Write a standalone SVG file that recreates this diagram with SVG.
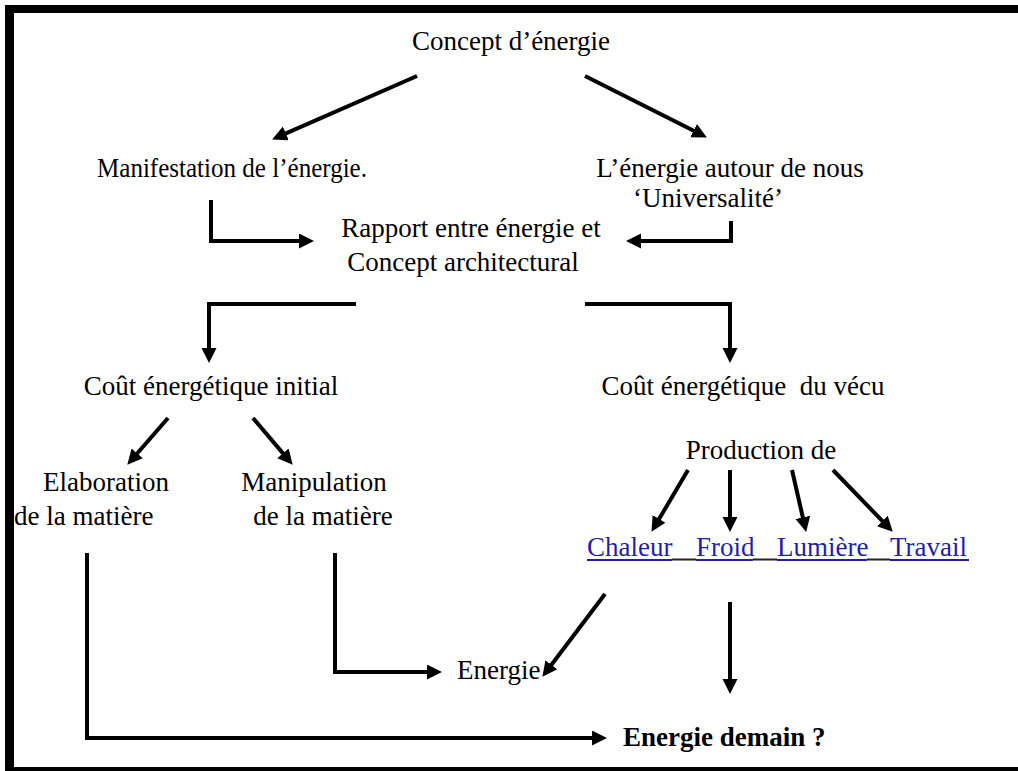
<svg xmlns="http://www.w3.org/2000/svg" width="1018" height="771" viewBox="0 0 1018 771">
<style>
.t{font-family:"Liberation Serif","Times New Roman",serif;font-size:27px;fill:#000}
.c{text-anchor:middle}
.b{font-weight:bold}
.lnk{fill:#1f1fa8}
.ln{fill:none;stroke:#000;stroke-width:4}
</style>
<defs>
<marker id="ah" markerUnits="userSpaceOnUse" markerWidth="17" markerHeight="17" refX="3" refY="7.5" orient="auto">
<path d="M0,0 L15,7.5 L0,15 Z" fill="#000"/>
</marker>
</defs>
<rect width="1018" height="771" fill="#fff"/>
<g id="border" fill="#000">
<rect x="5" y="5" width="1013" height="8"/>
<rect x="5" y="5" width="9" height="766"/>
<rect x="5" y="767" width="1013" height="4"/>
</g>
<g id="n-concept"><text class="t c" x="511" y="50">Concept d’énergie</text></g>
<g id="n-manif"><text class="t" x="97" y="177" textLength="270" lengthAdjust="spacingAndGlyphs">Manifestation de l’énergie.</text></g>
<g id="n-autour"><text class="t c" x="730" y="177">L’énergie autour de nous</text><text class="t c" x="708" y="207">‘Universalité’</text></g>
<g id="n-rapport"><text class="t c" x="471" y="237">Rapport entre énergie et</text><text class="t c" x="463" y="271">Concept architectural</text></g>
<g id="n-initial"><text class="t c" x="211" y="395">Coût énergétique initial</text></g>
<g id="n-vecu"><text class="t c" x="743" y="395" xml:space="preserve">Coût énergétique  du vécu</text></g>
<g id="n-elab"><text class="t c" x="106" y="491">Elaboration</text><text class="t" x="14" y="525">de la matière</text></g>
<g id="n-manip"><text class="t c" x="314" y="491">Manipulation</text><text class="t c" x="323" y="525">de la matière</text></g>
<g id="n-prod"><text class="t c" x="761" y="459">Production de</text></g>
<g id="n-types">
<text class="t lnk" x="587" y="556">Chaleur</text>
<text class="t lnk" x="696" y="556">Froid</text>
<text class="t lnk" x="777" y="556">Lumière</text>
<text class="t lnk" x="890" y="556">Travail</text>
<path d="M587,560 H672 M696,560 H753 M777,560 H867 M890,560 H969" stroke="#1f1fa8" stroke-width="1.8" fill="none"/>
<path d="M672,559.5 H696 M753,559.5 H777 M867,559.5 H890" stroke="#222" stroke-width="1.8" fill="none"/>
</g>
<g id="n-energie"><text class="t" x="457" y="679">Energie</text></g>
<g id="n-demain"><text class="t b" x="623" y="746">Energie demain ?</text></g>
<g id="connectors">
<path class="ln" marker-end="url(#ah)" d="M417,76 L283.1,134.6"/>
<path class="ln" marker-end="url(#ah)" d="M585,76 L696.2,132"/>
<path class="ln" marker-end="url(#ah)" d="M211,200 V241 H302"/>
<path class="ln" marker-end="url(#ah)" d="M731,221 V241 H638"/>
<path class="ln" marker-end="url(#ah)" d="M356,304 H209 V351"/>
<path class="ln" marker-end="url(#ah)" d="M585,304 H730 V351"/>
<path class="ln" marker-end="url(#ah)" d="M168,418 L135.2,455.7"/>
<path class="ln" marker-end="url(#ah)" d="M253,418 L284.9,455.6"/>
<path class="ln" marker-end="url(#ah)" d="M688,470 L657.6,521.5"/>
<path class="ln" marker-end="url(#ah)" d="M730,470 V520"/>
<path class="ln" marker-end="url(#ah)" d="M792,470 L803.5,520.3"/>
<path class="ln" marker-end="url(#ah)" d="M833,470 L884.4,523.1"/>
<path class="ln" marker-end="url(#ah)" d="M335,553 V672 H430"/>
<path class="ln" marker-end="url(#ah)" d="M605,594 L549.6,667.2"/>
<path class="ln" marker-end="url(#ah)" d="M730,602 V682"/>
<path class="ln" marker-end="url(#ah)" d="M87,553 V738 H595"/>
</g>
</svg>
